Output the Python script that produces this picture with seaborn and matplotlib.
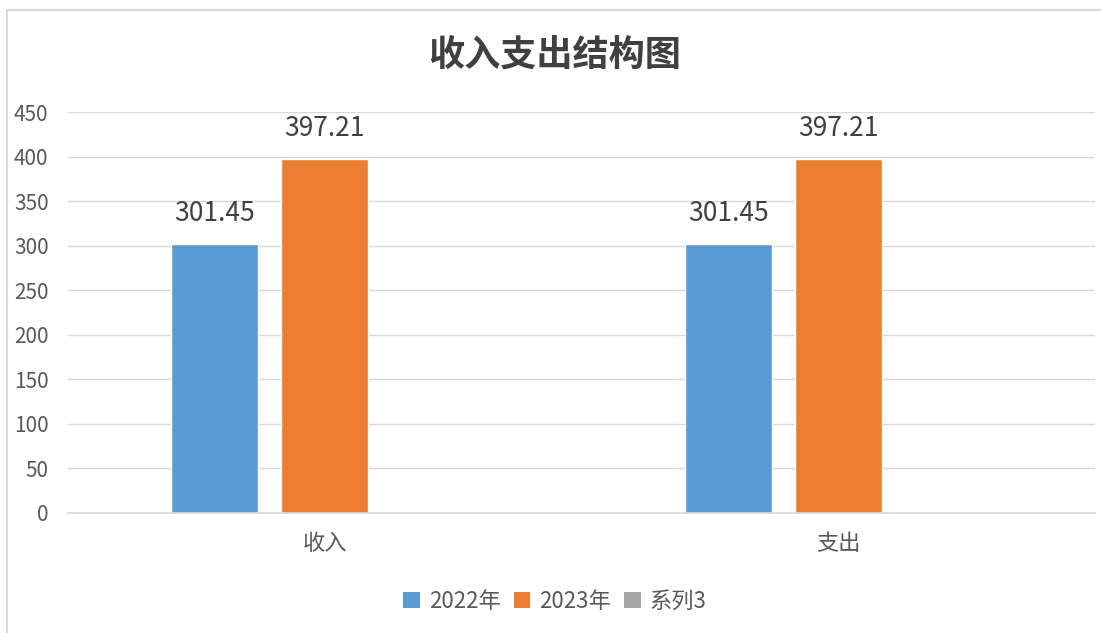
import seaborn as sns
import numpy as np
import pandas as pd
import matplotlib.pyplot as plt
from matplotlib.patches import Patch, Rectangle

# chart data
categories = ['收入', '支出']
series = ['2022年', '2023年', '系列3']
values_2022 = [301.45, 301.45]
values_2023 = [397.21, 397.21]
values_s3 = [np.nan, np.nan]
colors = ['#5B9BD5', '#ED7D31', '#A5A5A5']
yticks = [0, 50, 100, 150, 200, 250, 300, 350, 400, 450]

df = pd.DataFrame({
    'cat': categories * 3,
    'series': [series[0]] * 2 + [series[1]] * 2 + [series[2]] * 2,
    'value': values_2022 + values_2023 + values_s3,
})

sns.set_theme(style='white')
plt.rcParams['font.family'] = ['Noto Sans CJK SC', 'DejaVu Sans']

fig = plt.figure(figsize=(11.01, 6.33), dpi=100)
ax = fig.add_axes([0.0618, 0.1896, 0.9328, 0.6334])

sns.barplot(data=df, x='cat', y='value', hue='series', hue_order=series,
            palette=colors, width=0.643, gap=0.21, ax=ax, legend=False,
            errorbar=None, saturation=1)

ax.set_ylim(0, 450)
ax.set_xlim(-0.5, 1.5)
ax.set_yticks(yticks)
ax.set_yticklabels([str(t) for t in yticks])
ax.yaxis.grid(True, color='#d9d9d9', linewidth=1)
ax.set_axisbelow(True)
for s in ['left', 'right', 'top']:
    ax.spines[s].set_visible(False)
ax.spines['bottom'].set_color('#d9d9d9')
ax.spines['bottom'].set_linewidth(1.2)
ax.tick_params(axis='y', length=0, labelsize=15, colors='#595959', pad=14)
ax.tick_params(axis='x', length=0, labelsize=16, colors='#595959', pad=14)
ax.set_xlabel('')
ax.set_ylabel('')

# data labels
for cont in ax.containers:
    for bar in cont:
        h = bar.get_height()
        if np.isnan(h) or h == 0:
            continue
        ax.annotate(f'{h:.2f}', (bar.get_x() + bar.get_width() / 2, h),
                    xytext=(0, 31), textcoords='offset pixels',
                    ha='center', va='center', fontsize=19, color='#404040')

fig.suptitle('收入支出结构图', x=0.504, y=0.913, fontsize=26, fontweight='bold',
             color='#404040', va='center')

handles = [Patch(facecolor=c, edgecolor='none') for c in colors]
fig.legend(handles, series, loc='center', bbox_to_anchor=(0.504, 0.05), ncol=3,
           frameon=False, fontsize=16, handlelength=0.75, handleheight=0.75,
           handletextpad=0.4, columnspacing=0.6, labelcolor='#595959')

# outer chart border
fig.patches.append(Rectangle((7 / 1101, -0.1), 1.2, 1 - 10 / 633 + 0.1,
                             transform=fig.transFigure, fill=False,
                             edgecolor='#d9d9d9', linewidth=1.5))

fig.savefig('out.png', dpi=100)
